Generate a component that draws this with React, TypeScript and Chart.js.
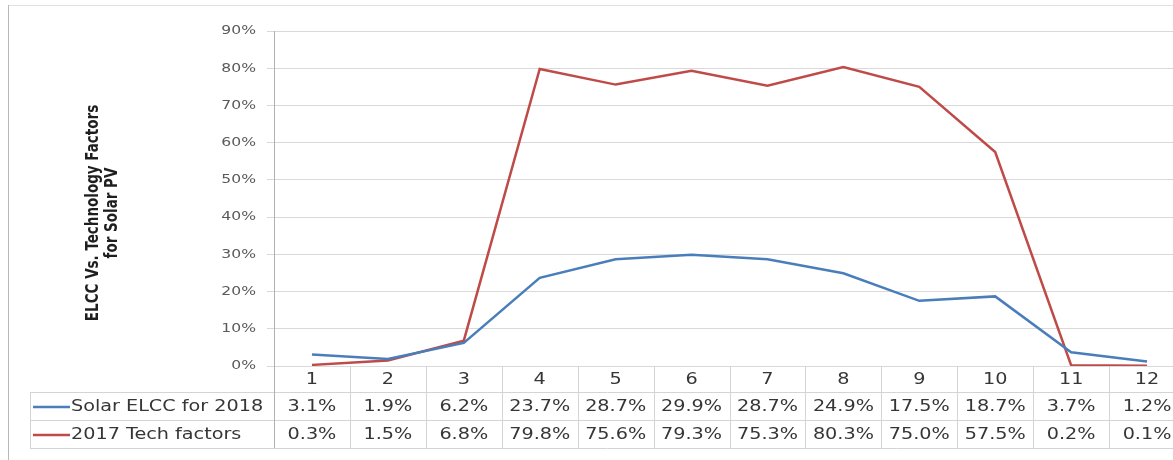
import React, { useEffect, useRef } from "react";
import { Chart, registerables } from "chart.js";

Chart.register(...registerables);

const categories = ["1", "2", "3", "4", "5", "6", "7", "8", "9", "10", "11", "12"];
const solarElcc2018 = [3.1, 1.9, 6.2, 23.7, 28.7, 29.9, 28.7, 24.9, 17.5, 18.7, 3.7, 1.2];
const techFactors2017 = [0.3, 1.5, 6.8, 79.8, 75.6, 79.3, 75.3, 80.3, 75.0, 57.5, 0.2, 0.1];
const seriesNames = ["Solar ELCC for 2018", "2017 Tech factors"];
const seriesColors = ["#4a7ebb", "#be4b48"];
const yTitleLines = ["ELCC Vs. Technology Factors", "for Solar PV"];
const yMin = 0;
const yMax = 90;
const yStep = 10;

const TEXT_COLOR = "#363636";
const TABLE_LINE = "#d4d4d4";
const AXIS_LINE = "#b0b0b0";
const STRETCH = 1.2;

function drawStretched(ctx: CanvasRenderingContext2D, text: string, x: number, y: number, align: CanvasTextAlign) {
  ctx.save();
  ctx.translate(x, y);
  ctx.scale(STRETCH, 1);
  ctx.textAlign = align;
  ctx.textBaseline = "middle";
  ctx.fillText(text, 0, 0);
  ctx.restore();
}

const tablePlugin = {
  id: "dataTable",
  afterDraw(chart: any) {
    const ctx: CanvasRenderingContext2D = chart.ctx;
    const area = chart.chartArea;
    const n = categories.length;
    const w = (area.right - area.left) / n;
    const top = area.bottom;
    const r1 = top + 26;
    const r2 = top + 54;
    const r3 = top + 82;
    const legendLeft = 30;

    ctx.save();
    // frame
    ctx.lineWidth = 1;
    ctx.strokeStyle = "#e2e2e2";
    ctx.beginPath();
    ctx.moveTo(8, 5.5);
    ctx.lineTo(chart.width, 5.5);
    ctx.stroke();
    ctx.strokeStyle = "#b8b8b8";
    ctx.beginPath();
    ctx.moveTo(8.5, 5);
    ctx.lineTo(8.5, chart.height);
    ctx.stroke();

    // y tick labels
    ctx.fillStyle = "#5a5a5a";
    ctx.font = "13px 'DejaVu Sans'";
    chart.scales.y.ticks.forEach((t: any) => {
      const y = chart.scales.y.getPixelForValue(t.value);
      drawStretched(ctx, t.value + "%", area.left - 18, y, "right");
    });

    // table lines
    ctx.strokeStyle = TABLE_LINE;
    ctx.beginPath();
    for (let k = 1; k <= n; k++) {
      const x = Math.round(area.left + k * w) + 0.5;
      ctx.moveTo(x, top);
      ctx.lineTo(x, r3);
    }
    [r1, r2, r3].forEach((y) => {
      ctx.moveTo(legendLeft, Math.round(y) + 0.5);
      ctx.lineTo(area.right, Math.round(y) + 0.5);
    });
    ctx.moveTo(legendLeft + 0.5, r1);
    ctx.lineTo(legendLeft + 0.5, r3);
    ctx.stroke();

    ctx.strokeStyle = AXIS_LINE;
    ctx.beginPath();
    ctx.moveTo(Math.round(area.left) + 0.5, top);
    ctx.lineTo(Math.round(area.left) + 0.5, r3);
    ctx.stroke();

    // texts
    ctx.fillStyle = TEXT_COLOR;
    ctx.font = "16px 'DejaVu Sans'";
    categories.forEach((c, i) => {
      const cx = chart.scales.x.getPixelForValue(i);
      drawStretched(ctx, c, cx, (top + r1) / 2 + 1, "center");
    });
    const rows = [solarElcc2018, techFactors2017];
    const rowCenters = [(r1 + r2) / 2 + 1, (r2 + r3) / 2 + 1];
    rows.forEach((vals, ri) => {
      vals.forEach((v, i) => {
        const cx = chart.scales.x.getPixelForValue(i);
        drawStretched(ctx, v.toFixed(1) + "%", cx, rowCenters[ri], "center");
      });
      // legend key
      ctx.strokeStyle = seriesColors[ri];
      ctx.lineWidth = 2.5;
      ctx.beginPath();
      ctx.moveTo(33, rowCenters[ri]);
      ctx.lineTo(70, rowCenters[ri]);
      ctx.stroke();
      ctx.fillStyle = TEXT_COLOR;
      drawStretched(ctx, seriesNames[ri], 71, rowCenters[ri], "left");
    });

    // y axis title
    ctx.save();
    ctx.fillStyle = "#1e1e1e";
    ctx.font = "bold 15px 'Liberation Sans Narrow', 'DejaVu Sans Condensed', sans-serif";
    ctx.translate(93, 213);
    ctx.rotate(-Math.PI / 2);
    ctx.scale(1, STRETCH);
    ctx.textAlign = "center";
    ctx.textBaseline = "middle";
    ctx.fillText(yTitleLines[0], 0, 0);
    ctx.fillText(yTitleLines[1], 0, 16);
    ctx.restore();

    ctx.restore();
  },
};

export default function App() {
  const canvasRef = useRef<HTMLCanvasElement | null>(null);

  useEffect(() => {
    if (!canvasRef.current) return;
    const chart = new Chart(canvasRef.current, {
      type: "line",
      data: {
        labels: categories,
        datasets: [
          {
            label: seriesNames[0],
            data: solarElcc2018,
            borderColor: seriesColors[0],
            backgroundColor: seriesColors[0],
            borderWidth: 2.5,
            pointRadius: 0,
            tension: 0,
          },
          {
            label: seriesNames[1],
            data: techFactors2017,
            borderColor: seriesColors[1],
            backgroundColor: seriesColors[1],
            borderWidth: 2.5,
            pointRadius: 0,
            tension: 0,
          },
        ],
      },
      options: {
        animation: false,
        responsive: false,
        maintainAspectRatio: false,
        layout: { padding: { left: 0, top: 31, right: 15, bottom: 0 } },
        plugins: { legend: { display: false }, tooltip: { enabled: false } },
        scales: {
          x: {
            type: "category",
            offset: true,
            grid: { display: false, drawTicks: false },
            border: { display: false },
            ticks: { display: false },
            afterFit: (s: any) => {
              s.height = 94;
            },
          },
          y: {
            min: yMin,
            max: yMax,
            ticks: {
              stepSize: yStep,
              callback: (v: any) => v + "%",
              font: { family: "'DejaVu Sans'", size: 13 },
              color: "rgba(0,0,0,0)",
              padding: 10,
            },
            grid: { color: "#d9d9d9", tickLength: 7, drawTicks: true },
            border: { color: AXIS_LINE },
            afterFit: (s: any) => {
              s.width = 274;
            },
          },
        },
      },
      plugins: [tablePlugin],
    });
    return () => chart.destroy();
  }, []);

  return (
    <div
      style={{
        position: "absolute",
        left: 0,
        top: 0,
        width: 1173,
        height: 460,
        overflow: "hidden",
        background: "#ffffff",
      }}
    >
      <canvas ref={canvasRef} width={1200} height={460} style={{ display: "block" }} />
    </div>
  );
}
